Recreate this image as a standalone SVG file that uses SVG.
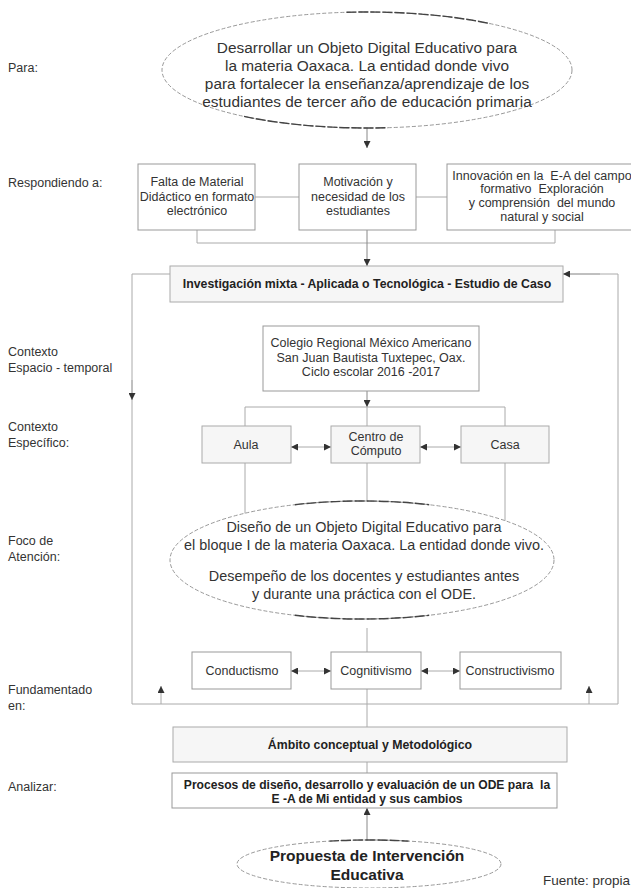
<svg xmlns="http://www.w3.org/2000/svg" width="631" height="888" viewBox="0 0 631 888">
<defs>
<marker id="ah" viewBox="0 0 10 10" refX="10" refY="5" markerWidth="8" markerHeight="7" markerUnits="userSpaceOnUse" orient="auto-start-reverse">
<path d="M0,0 L10,5 L0,10 z" fill="#333"/>
</marker>
<style>
text{font-family:"Liberation Sans",Arial,sans-serif;fill:#333;}
.lbl{font-size:12.5px;}
.t{font-size:12.5px;text-anchor:middle;}
.te{font-size:15.4px;text-anchor:middle;}
.tf{font-size:14.4px;text-anchor:middle;}
.b{font-size:12.3px;font-weight:bold;text-anchor:middle;fill:#222;}
.box{fill:#fff;stroke:#999;stroke-width:1;}
.gbox{fill:#f6f6f6;stroke:#aaa;stroke-width:1;}
.ell{fill:#fff;stroke:#999;stroke-width:1;stroke-dasharray:4 2;}
.shade{fill:none;stroke:#444;stroke-width:1.4;stroke-dasharray:10 2;}
.ln{fill:none;stroke:#aaa;stroke-width:1;}
.ar{fill:none;stroke:#888;stroke-width:1;}
</style>
</defs>
<rect width="631" height="888" fill="#fff"/>

<g id="labels">
<text class="lbl" x="8" y="72">Para:</text>
<text class="lbl" x="8" y="187">Respondiendo a:</text>
<text class="lbl" x="8" y="356">Contexto</text>
<text class="lbl" x="8" y="372">Espacio - temporal</text>
<text class="lbl" x="8" y="431">Contexto</text>
<text class="lbl" x="8" y="447">Específico:</text>
<text class="lbl" x="8" y="545">Foco de</text>
<text class="lbl" x="8" y="561">Atención:</text>
<text class="lbl" x="8" y="694">Fundamentado</text>
<text class="lbl" x="8" y="710">en:</text>
<text class="lbl" x="8" y="791">Analizar:</text>
</g>

<g id="connectors">
<line class="ar" x1="367" y1="128" x2="367" y2="148" marker-end="url(#ah)"/>
<line class="ln" x1="255" y1="197" x2="299" y2="197"/>
<line class="ln" x1="416" y1="197" x2="447" y2="197"/>
<path class="ln" d="M197,230 V243 H555 V230"/>
<line class="ar" x1="367" y1="230" x2="367" y2="266" marker-end="url(#ah)"/>
<path class="ln" d="M170,274 H132 V704 H618 V274 H563"/>
<line class="ln" x1="600" y1="274" x2="563" y2="274" marker-end="url(#ah)"/>
<line class="ln" x1="132" y1="380" x2="132" y2="400" marker-end="url(#ah)"/>
<line class="ln" x1="161" y1="704" x2="161" y2="686" marker-end="url(#ah)"/>
<line class="ln" x1="589" y1="704" x2="589" y2="686" marker-end="url(#ah)"/>
<line class="ar" x1="367" y1="391" x2="367" y2="407" marker-end="url(#ah)"/>
<path class="ln" d="M245,426 V407 H505 V426 M367,407 V426"/>
<line class="ln" x1="291" y1="447" x2="331" y2="447" marker-start="url(#ah)" marker-end="url(#ah)"/>
<line class="ln" x1="420" y1="447" x2="461" y2="447" marker-start="url(#ah)" marker-end="url(#ah)"/>
<path class="ln" d="M245,463 V540 M367,463 V520 M505,463 V540"/>
<line class="ln" x1="367" y1="628" x2="367" y2="652"/>
<line class="ln" x1="291" y1="671" x2="331" y2="671" marker-start="url(#ah)" marker-end="url(#ah)"/>
<line class="ln" x1="421" y1="671" x2="460" y2="671" marker-start="url(#ah)" marker-end="url(#ah)"/>
<line class="ln" x1="367" y1="689" x2="367" y2="727"/>
<line class="ln" x1="367" y1="762" x2="367" y2="773"/>
<line class="ar" x1="367" y1="840" x2="367" y2="808" marker-end="url(#ah)"/>
</g>

<g id="n-para">
<ellipse class="ell" cx="367" cy="70" rx="205" ry="58"/>
<path class="shade" d="M346.5,12.3 A205,58 0 0 1 490,23.6"/>
<path class="shade" d="M244,116.4 A205,58 0 0 0 387.5,127.7"/>
<text class="te" x="367" y="53">Desarrollar un Objeto Digital Educativo para</text>
<text class="te" x="367" y="71">la materia Oaxaca. La entidad donde vivo</text>
<text class="te" x="367" y="89">para fortalecer la enseñanza/aprendizaje de los</text>
<text class="te" x="367" y="107">estudiantes de tercer año de educación primaria</text>
</g>

<g id="n-falta">
<rect class="box" x="138" y="164" width="117" height="66"/>
<text class="t" x="197" y="186">Falta de Material</text>
<text class="t" x="197" y="201">Didáctico en formato</text>
<text class="t" x="197" y="215">electrónico</text>
</g>

<g id="n-motivacion">
<rect class="box" x="299" y="164" width="117" height="66"/>
<text class="t" x="358" y="186">Motivación y</text>
<text class="t" x="358" y="201">necesidad de los</text>
<text class="t" x="358" y="215">estudiantes</text>
</g>

<g id="n-innovacion">
<rect class="box" x="447" y="164" width="190" height="66"/>
<text class="t" x="542" y="180" style="white-space:pre">Innovación en la  E-A del campo</text>
<text class="t" x="542" y="193" style="white-space:pre">formativo  Exploración</text>
<text class="t" x="542" y="207" style="white-space:pre">y comprensión  del mundo</text>
<text class="t" x="542" y="221">natural y social</text>
</g>

<g id="n-investigacion">
<rect class="gbox" x="170" y="266" width="393" height="36"/>
<text class="b" x="367" y="288">Investigación mixta - Aplicada o Tecnológica - Estudio de Caso</text>
</g>

<g id="n-colegio">
<rect class="box" x="263" y="326" width="216" height="65"/>
<text class="t" x="371" y="347">Colegio Regional México Americano</text>
<text class="t" x="371" y="362">San Juan Bautista Tuxtepec, Oax.</text>
<text class="t" x="371" y="376">Ciclo escolar 2016 -2017</text>
</g>

<g id="n-aula">
<rect class="gbox" x="202" y="426" width="89" height="37"/>
<text class="t" x="246" y="449">Aula</text>
</g>
<g id="n-centro">
<rect class="gbox" x="331" y="426" width="89" height="37"/>
<text class="t" x="376" y="441">Centro de</text>
<text class="t" x="376" y="455">Cómputo</text>
</g>
<g id="n-casa">
<rect class="gbox" x="461" y="426" width="88" height="37"/>
<text class="t" x="505" y="449">Casa</text>
</g>

<g id="n-foco">
<ellipse class="ell" cx="362" cy="560" rx="192" ry="59"/>
<path class="shade" d="M294.8,504.7 A192,59 0 0 1 429.2,504.7"/>
<path class="shade" d="M294.8,615.3 A192,59 0 0 0 429.2,615.3"/>
<text class="tf" x="364" y="532">Diseño de un Objeto Digital Educativo para</text>
<text class="tf" x="364" y="550">el bloque I de la materia Oaxaca. La entidad donde vivo.</text>
<text class="tf" x="364" y="581">Desempeño de los docentes y estudiantes antes</text>
<text class="tf" x="364" y="599">y durante una práctica con el ODE.</text>
</g>

<g id="n-conductismo">
<rect class="box" x="192" y="652" width="99" height="37"/>
<text class="t" x="242" y="675">Conductismo</text>
</g>
<g id="n-cognitivismo">
<rect class="box" x="331" y="652" width="90" height="37"/>
<text class="t" x="376" y="675">Cognitivismo</text>
</g>
<g id="n-constructivismo">
<rect class="box" x="460" y="652" width="101" height="37"/>
<text class="t" x="510" y="675">Constructivismo</text>
</g>

<g id="n-ambito">
<rect class="gbox" x="173" y="727" width="394" height="35"/>
<text class="b" x="370" y="749">Ámbito conceptual y Metodológico</text>
</g>

<g id="n-procesos">
<rect class="box" x="172" y="773" width="385" height="35"/>
<text class="b" x="367" y="789" style="white-space:pre;font-size:12.1px">Procesos de diseño, desarrollo y evaluación de un ODE para  la</text>
<text class="b" x="367" y="803" style="font-size:12.1px">E -A de Mi entidad y sus cambios</text>
</g>

<g id="n-propuesta">
<ellipse class="ell" cx="369" cy="864" rx="132" ry="24"/>
<path class="shade" d="M329.4,841.1 A132,24 0 0 1 408.6,841.1"/>
<text class="b" x="367" y="861" style="font-size:15.5px">Propuesta de Intervención</text>
<text class="b" x="367" y="880" style="font-size:15.5px">Educativa</text>
</g>

<text x="543" y="885" style="font-size:13.5px;fill:#333">Fuente: propia</text>
</svg>
